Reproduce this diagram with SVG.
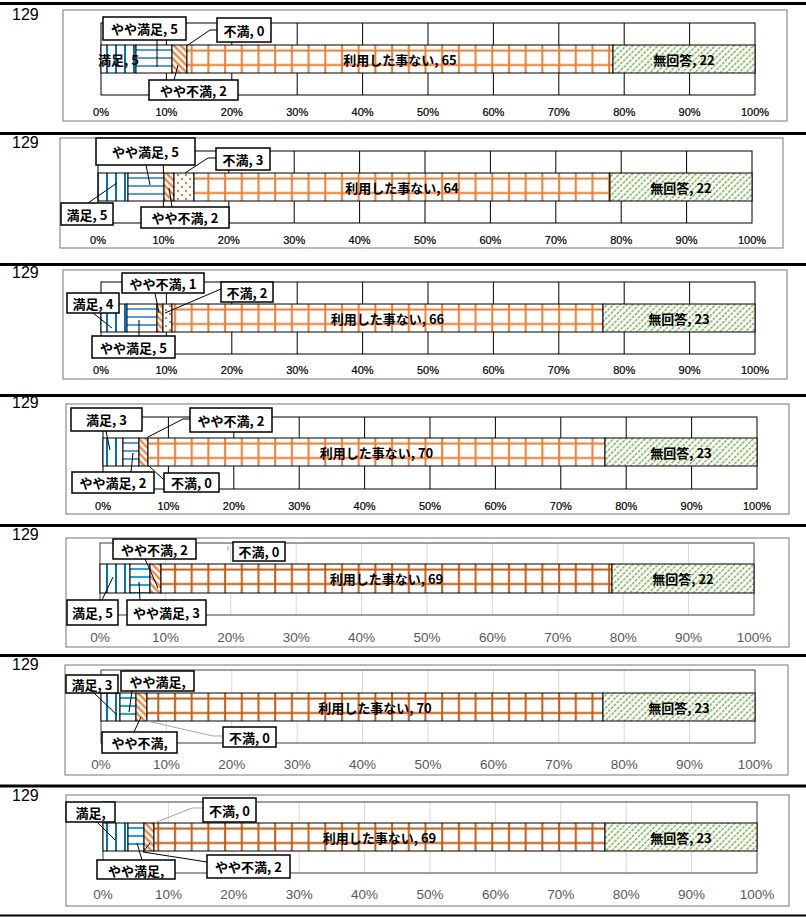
<svg xmlns="http://www.w3.org/2000/svg" width="806" height="917" viewBox="0 0 806 917">
<style>
.sep{stroke:#000;stroke-width:3}
.frame{fill:#fff;stroke:#767676;stroke-width:1}
.plot{fill:none;stroke:#000;stroke-width:1}
.plot2{fill:none;stroke:#404040;stroke-width:1}
.grid{fill:none;stroke:#000;stroke-width:1}
.grid2{fill:none;stroke:#d9d9d9;stroke-width:1}
.seg{stroke:#000;stroke-width:1}
.lbl{font-family:"Noto Sans CJK JP","Noto Sans CJK SC",sans-serif;font-weight:bold;font-size:13px;text-anchor:middle;dominant-baseline:central;fill:#000}
.box{fill:#fff;stroke:#000;stroke-width:1.5}
.lead{fill:none;stroke:#000;stroke-width:1}
.leadg{fill:none;stroke:#a6a6a6;stroke-width:1}
.ax{font-family:"Liberation Sans",Arial,sans-serif;font-size:11px;text-anchor:middle;fill:#000;stroke:#000;stroke-width:0.2}
.ax2{font-family:"Liberation Sans",Arial,sans-serif;font-size:13.5px;text-anchor:middle;fill:#595959}
.num{font-family:"Liberation Sans",Arial,sans-serif;font-size:16px;fill:#000}
</style>
<defs>
<pattern id="pM" patternUnits="userSpaceOnUse" width="9" height="10">
<rect width="9" height="10" fill="#fff"/><line x1="8" y1="0" x2="8" y2="10" stroke="#0070C0" stroke-width="2"/>
</pattern>
<pattern id="pYM" patternUnits="userSpaceOnUse" width="10" height="8">
<rect width="10" height="8" fill="#fff"/><line x1="0" y1="5" x2="10" y2="5" stroke="#5B9BD5" stroke-width="2"/>
</pattern>
<pattern id="pYM2" patternUnits="userSpaceOnUse" width="10" height="8">
<rect width="10" height="8" fill="#fff"/><line x1="0" y1="5" x2="10" y2="5" stroke="#1FA3E6" stroke-width="2"/>
</pattern>
<pattern id="pYF" patternUnits="userSpaceOnUse" width="5" height="5" patternTransform="rotate(-45)">
<rect width="5" height="5" fill="#fff"/><line x1="2.5" y1="0" x2="2.5" y2="5" stroke="#ED7D31" stroke-width="2.2"/>
</pattern>
<pattern id="pF" patternUnits="userSpaceOnUse" width="8" height="8">
<rect width="8" height="8" fill="#fff"/><rect x="1" y="1" width="2" height="2" fill="#ED7D31"/><rect x="5" y="5" width="2" height="2" fill="#ED7D31"/>
</pattern>
<pattern id="pR" patternUnits="userSpaceOnUse" width="16.7" height="14.5">
<rect width="16.7" height="14.5" fill="#fff"/><line x1="8" y1="0" x2="8" y2="14.5" stroke="#ED7D31" stroke-width="2"/><line x1="0" y1="5.5" x2="16.7" y2="5.5" stroke="#ED7D31" stroke-width="2"/>
</pattern>
<pattern id="pR2" patternUnits="userSpaceOnUse" width="16.7" height="14.5">
<rect width="16.7" height="14.5" fill="#fff"/><line x1="8" y1="0" x2="8" y2="14.5" stroke="#C55A11" stroke-width="2"/><line x1="0" y1="5.5" x2="16.7" y2="5.5" stroke="#C55A11" stroke-width="2"/>
</pattern>
<pattern id="pN" patternUnits="userSpaceOnUse" width="4.5" height="8" patternTransform="rotate(45)">
<rect width="4.5" height="8" fill="#fff"/><line x1="2.25" y1="0" x2="2.25" y2="8" stroke="#70AD47" stroke-width="1.4" stroke-dasharray="3 1"/>
</pattern>
</defs>
<rect width="806" height="917" fill="#fff"/>
<g id="separators">
<line class="sep" x1="0" y1="3.5" x2="806" y2="3.5"/>
<line class="sep" x1="0" y1="133.5" x2="806" y2="133.5"/>
<line class="sep" x1="0" y1="264.5" x2="806" y2="264.5"/>
<line class="sep" x1="0" y1="395.5" x2="806" y2="395.5"/>
<line class="sep" x1="0" y1="525.5" x2="806" y2="525.5"/>
<line class="sep" x1="0" y1="655.5" x2="806" y2="655.5"/>
<line class="sep" x1="0" y1="786" x2="806" y2="786"/>
<line x1="0" y1="915.5" x2="806" y2="915.5" stroke="#000" stroke-width="2"/>
</g>

<!-- Panel 1 -->
<g id="panel1" transform="translate(0,45)">
<text class="num" x="12" y="-25">129</text>
<rect class="frame" x="63" y="-35" width="724" height="111"/>
<path class="grid" d="M166.4,-22v72m65.4,-72v72m65.4,-72v72m65.4,-72v72m65.4,-72v72m65.4,-72v72m65.4,-72v72m65.4,-72v72m65.4,-72v72"/>
<rect class="plot" x="101" y="-22" width="654" height="72"/>
<g id="p1-bars">
<rect class="seg" fill="url(#pM)" x="101" y="0" width="35" height="28"/>
<rect class="seg" fill="url(#pYM)" x="136" y="0" width="36" height="28"/>
<rect class="seg" fill="url(#pYF)" x="172" y="0" width="15" height="28"/>
<rect class="seg" fill="url(#pR)" x="187" y="0" width="426" height="28"/>
<rect class="seg" fill="url(#pN)" x="613" y="0" width="142" height="28"/>
</g>
<g id="p1-axis">
<text class="ax" x="101" y="71">0%</text><text class="ax" x="166.4" y="71">10%</text><text class="ax" x="231.8" y="71">20%</text><text class="ax" x="297.2" y="71">30%</text><text class="ax" x="362.6" y="71">40%</text><text class="ax" x="428" y="71">50%</text><text class="ax" x="493.4" y="71">60%</text><text class="ax" x="558.8" y="71">70%</text><text class="ax" x="624.2" y="71">80%</text><text class="ax" x="689.6" y="71">90%</text><text class="ax" x="755" y="71">100%</text>
</g>
<g id="p1-connectors">
<path class="lead" d="M157,-5V22"/>
<path class="lead" d="M217,-15H210L188,0"/>
<path class="lead" d="M174,35L178,20"/>
</g>
<g id="p1-manzoku"><text class="lbl" x="118.5" y="14">満足, 5</text></g>
<g id="p1-yayamanzoku"><rect class="box" x="103" y="-28" width="83" height="23"/><text class="lbl" x="144.5" y="-16.5">やや満足, 5</text></g>
<g id="p1-fuman"><rect class="box" x="217" y="-27" width="54" height="24"/><text class="lbl" x="244" y="-15">不満, 0</text></g>
<g id="p1-yayafuman"><rect class="box" x="149" y="35" width="89" height="20"/><text class="lbl" x="193.5" y="45">やや不満, 2</text></g>
<g id="p1-riyou"><text class="lbl" x="400" y="14">利用した事ない, 65</text></g>
<g id="p1-mukaitou"><text class="lbl" x="684" y="14">無回答, 22</text></g>
</g>

<!-- Panel 2 -->
<g id="panel2" transform="translate(0,173)">
<text class="num" x="12" y="-25">129</text>
<rect class="frame" x="60" y="-35" width="723" height="110"/>
<path class="grid" d="M163.4,-22v72m65.4,-72v72m65.4,-72v72m65.4,-72v72m65.4,-72v72m65.4,-72v72m65.4,-72v72m65.4,-72v72m65.4,-72v72"/>
<rect class="plot" x="98" y="-22" width="654" height="72"/>
<g id="p2-bars">
<rect class="seg" fill="url(#pM)" x="98" y="0" width="30" height="28"/>
<rect class="seg" fill="url(#pYM)" x="128" y="0" width="36" height="28"/>
<rect class="seg" fill="url(#pYF)" x="164" y="0" width="10" height="28"/>
<rect class="seg" fill="url(#pF)" x="174" y="0" width="20" height="28"/>
<rect class="seg" fill="url(#pR)" x="194" y="0" width="416" height="28"/>
<rect class="seg" fill="url(#pN)" x="610" y="0" width="142" height="28"/>
</g>
<g id="p2-axis">
<text class="ax" x="98" y="71">0%</text><text class="ax" x="163.4" y="71">10%</text><text class="ax" x="228.8" y="71">20%</text><text class="ax" x="294.2" y="71">30%</text><text class="ax" x="359.6" y="71">40%</text><text class="ax" x="425" y="71">50%</text><text class="ax" x="490.4" y="71">60%</text><text class="ax" x="555.8" y="71">70%</text><text class="ax" x="621.2" y="71">80%</text><text class="ax" x="686.6" y="71">90%</text><text class="ax" x="752" y="71">100%</text>
</g>
<g id="p2-connectors">
<path class="lead" d="M146,-8L150,12"/>
<path class="lead" d="M216,-15H208L185,0"/>
<path class="lead" d="M88,30L117,10"/>
<path class="lead" d="M172,34L169,15"/>
</g>
<g id="p2-yayamanzoku"><rect class="box" x="96" y="-35" width="99" height="27"/><text class="lbl" x="145.5" y="-21.5">やや満足, 5</text></g>
<g id="p2-fuman"><rect class="box" x="216" y="-25" width="54" height="22"/><text class="lbl" x="243" y="-14">不満, 3</text></g>
<g id="p2-manzoku"><rect class="box" x="61" y="30" width="52" height="22"/><text class="lbl" x="87" y="41">満足, 5</text></g>
<g id="p2-yayafuman"><rect class="box" x="141" y="34" width="88" height="21"/><text class="lbl" x="185" y="44.5">やや不満, 2</text></g>
<g id="p2-riyou"><text class="lbl" x="402" y="14">利用した事ない, 64</text></g>
<g id="p2-mukaitou"><text class="lbl" x="681" y="14">無回答, 22</text></g>
</g>

<!-- Panel 3 -->
<g id="panel3" transform="translate(0,304)">
<text class="num" x="12" y="-26">129</text>
<rect class="frame" x="63" y="-34" width="724" height="109"/>
<path class="grid" d="M166.4,-22v72m65.4,-72v72m65.4,-72v72m65.4,-72v72m65.4,-72v72m65.4,-72v72m65.4,-72v72m65.4,-72v72m65.4,-72v72"/>
<rect class="plot" x="101" y="-22" width="654" height="72"/>
<g id="p3-bars">
<rect class="seg" fill="url(#pM)" x="101" y="0" width="26" height="28"/>
<rect class="seg" fill="url(#pYM)" x="127" y="0" width="30" height="28"/>
<rect class="seg" fill="url(#pYF)" x="157" y="0" width="6" height="28"/>
<rect class="seg" fill="url(#pF)" x="163" y="0" width="9" height="28"/>
<rect class="seg" fill="url(#pR)" x="172" y="0" width="431" height="28"/>
<rect class="seg" fill="url(#pN)" x="603" y="0" width="152" height="28"/>
</g>
<g id="p3-axis">
<text class="ax" x="101" y="70">0%</text><text class="ax" x="166.4" y="70">10%</text><text class="ax" x="231.8" y="70">20%</text><text class="ax" x="297.2" y="70">30%</text><text class="ax" x="362.6" y="70">40%</text><text class="ax" x="428" y="70">50%</text><text class="ax" x="493.4" y="70">60%</text><text class="ax" x="558.8" y="70">70%</text><text class="ax" x="624.2" y="70">80%</text><text class="ax" x="689.6" y="70">90%</text><text class="ax" x="755" y="70">100%</text>
</g>
<g id="p3-connectors">
<path class="lead" d="M93,9L112,24"/>
<path class="lead" d="M155,-11L159,9"/>
<path class="lead" d="M221,-15L165,9"/>
<path class="lead" d="M139,32V16"/>
</g>
<g id="p3-manzoku"><rect class="box" x="67" y="-11" width="52" height="20"/><text class="lbl" x="93" y="-1">満足, 4</text></g>
<g id="p3-yayafuman"><rect class="box" x="122" y="-31" width="82" height="20"/><text class="lbl" x="163" y="-21">やや不満, 1</text></g>
<g id="p3-fuman"><rect class="box" x="221" y="-22" width="52" height="20"/><text class="lbl" x="247" y="-12">不満, 2</text></g>
<g id="p3-yayamanzoku"><rect class="box" x="92" y="32" width="83" height="22"/><text class="lbl" x="133.5" y="43">やや満足, 5</text></g>
<g id="p3-riyou"><text class="lbl" x="387.5" y="14">利用した事ない, 66</text></g>
<g id="p3-mukaitou"><text class="lbl" x="679" y="14">無回答, 23</text></g>
</g>

<!-- Panel 4 -->
<g id="panel4" transform="translate(0,438)">
<text class="num" x="12" y="-30">129</text>
<rect class="frame" x="66" y="-34" width="723" height="110"/>
<path class="grid" d="M168.4,-21v72m65.4,-72v72m65.4,-72v72m65.4,-72v72m65.4,-72v72m65.4,-72v72m65.4,-72v72m65.4,-72v72m65.4,-72v72"/>
<rect class="plot" x="103" y="-21" width="654" height="72"/>
<g id="p4-bars">
<rect class="seg" fill="url(#pM)" x="103" y="0" width="20" height="28"/>
<rect class="seg" fill="url(#pYM)" x="123" y="0" width="16" height="28"/>
<rect class="seg" fill="url(#pYF)" x="139" y="0" width="9" height="28"/>
<rect class="seg" fill="url(#pR)" x="148" y="0" width="457" height="28"/>
<rect class="seg" fill="url(#pN)" x="605" y="0" width="152" height="28"/>
</g>
<g id="p4-axis">
<text class="ax" x="103" y="72">0%</text><text class="ax" x="168.4" y="72">10%</text><text class="ax" x="233.8" y="72">20%</text><text class="ax" x="299.2" y="72">30%</text><text class="ax" x="364.6" y="72">40%</text><text class="ax" x="430" y="72">50%</text><text class="ax" x="495.4" y="72">60%</text><text class="ax" x="560.8" y="72">70%</text><text class="ax" x="626.2" y="72">80%</text><text class="ax" x="691.6" y="72">90%</text><text class="ax" x="757" y="72">100%</text>
</g>
<g id="p4-connectors">
<path class="lead" d="M106,-7L110,12"/>
<path class="lead" d="M190,-19H183L148,-1"/>
<path class="lead" d="M131,34L133,15"/>
<path class="lead" d="M164,42L149,28"/>
</g>
<g id="p4-manzoku"><rect class="box" x="71" y="-30" width="71" height="23"/><text class="lbl" x="106.5" y="-18.5">満足, 3</text></g>
<g id="p4-yayafuman"><rect class="box" x="190" y="-30" width="82" height="24"/><text class="lbl" x="231" y="-18">やや不満, 2</text></g>
<g id="p4-yayamanzoku"><rect class="box" x="72" y="34" width="82" height="21"/><text class="lbl" x="113" y="44.5">やや満足, 2</text></g>
<g id="p4-fuman"><rect class="box" x="164" y="35" width="55" height="19"/><text class="lbl" x="191.5" y="44.5">不満, 0</text></g>
<g id="p4-riyou"><text class="lbl" x="376.5" y="14">利用した事ない, 70</text></g>
<g id="p4-mukaitou"><text class="lbl" x="681" y="14">無回答, 23</text></g>
</g>

<!-- Panel 5 -->
<g id="panel5" transform="translate(0,564)">
<text class="num" x="12" y="-24">129</text>
<rect class="frame" x="66" y="-26" width="723" height="109"/>
<path class="grid2" d="M165.4,-21v72m65.4,-72v72m65.4,-72v72m65.4,-72v72m65.4,-72v72m65.4,-72v72m65.4,-72v72m65.4,-72v72m65.4,-72v72"/>
<rect class="plot2" x="100" y="-21" width="654" height="72"/>
<g id="p5-bars">
<rect class="seg" fill="url(#pM)" x="100" y="0" width="30" height="29"/>
<rect class="seg" fill="url(#pYM2)" x="130" y="0" width="20" height="29"/>
<rect class="seg" fill="url(#pYF)" x="150" y="0" width="11" height="29"/>
<rect class="seg" fill="url(#pR2)" x="161" y="0" width="451" height="29"/>
<rect class="seg" fill="url(#pN)" x="612" y="0" width="142" height="29"/>
</g>
<g id="p5-axis">
<text class="ax2" x="100" y="78">0%</text><text class="ax2" x="165.4" y="78">10%</text><text class="ax2" x="230.8" y="78">20%</text><text class="ax2" x="296.2" y="78">30%</text><text class="ax2" x="361.6" y="78">40%</text><text class="ax2" x="427" y="78">50%</text><text class="ax2" x="492.4" y="78">60%</text><text class="ax2" x="557.8" y="78">70%</text><text class="ax2" x="623.2" y="78">80%</text><text class="ax2" x="688.6" y="78">90%</text><text class="ax2" x="754" y="78">100%</text>
</g>
<g id="p5-connectors">
<path class="lead" d="M145,-5L158,24"/>
<path class="leadg" d="M228,-18V-13"/>
<path class="lead" d="M102,36L113,13"/>
<path class="lead" d="M140,36L139,18"/>
</g>
<g id="p5-yayafuman"><rect class="box" x="113" y="-25" width="83" height="20"/><text class="lbl" x="154.5" y="-15">やや不満, 2</text></g>
<g id="p5-fuman"><rect class="box" x="233" y="-22" width="52" height="19"/><text class="lbl" x="259" y="-12.5">不満, 0</text></g>
<g id="p5-manzoku"><rect class="box" x="67" y="36" width="51" height="25"/><text class="lbl" x="92.5" y="48.5">満足, 5</text></g>
<g id="p5-yayamanzoku"><rect class="box" x="127" y="36" width="79" height="25"/><text class="lbl" x="166.5" y="48.5">やや満足, 3</text></g>
<g id="p5-riyou"><text class="lbl" x="386.5" y="14.5">利用した事ない, 69</text></g>
<g id="p5-mukaitou"><text class="lbl" x="683" y="14.5">無回答, 22</text></g>
</g>

<!-- Panel 6 -->
<g id="panel6" transform="translate(0,693)">
<text class="num" x="12" y="-23">129</text>
<rect class="frame" x="65" y="-28" width="723" height="110"/>
<path class="grid2" d="M166.4,-23v73m65.4,-73v73m65.4,-73v73m65.4,-73v73m65.4,-73v73m65.4,-73v73m65.4,-73v73m65.4,-73v73m65.4,-73v73"/>
<rect class="plot2" x="101" y="-23" width="654" height="73"/>
<g id="p6-bars">
<rect class="seg" fill="url(#pM)" x="101" y="0" width="19" height="28"/>
<rect class="seg" fill="url(#pYM2)" x="120" y="0" width="16" height="28"/>
<rect class="seg" fill="url(#pYF)" x="136" y="0" width="11" height="28"/>
<rect class="seg" fill="url(#pR2)" x="147" y="0" width="456" height="28"/>
<rect class="seg" fill="url(#pN)" x="603" y="0" width="152" height="28"/>
</g>
<g id="p6-axis">
<text class="ax2" x="101" y="76">0%</text><text class="ax2" x="166.4" y="76">10%</text><text class="ax2" x="231.8" y="76">20%</text><text class="ax2" x="297.2" y="76">30%</text><text class="ax2" x="362.6" y="76">40%</text><text class="ax2" x="428" y="76">50%</text><text class="ax2" x="493.4" y="76">60%</text><text class="ax2" x="558.8" y="76">70%</text><text class="ax2" x="624.2" y="76">80%</text><text class="ax2" x="689.6" y="76">90%</text><text class="ax2" x="755" y="76">100%</text>
</g>
<g id="p6-connectors">
<path class="lead" d="M94,0L117,22"/>
<path class="lead" d="M132,-2L129,19"/>
<path class="lead" d="M134,39L141,24"/>
<path class="leadg" d="M223,43H213L147,28"/>
</g>
<g id="p6-manzoku"><rect class="box" x="66" y="-18" width="52" height="18"/><text class="lbl" x="92" y="-9">満足, 3</text></g>
<g id="p6-yayamanzoku"><rect class="box" x="121" y="-22" width="73" height="20"/><text class="lbl" x="157.5" y="-12">やや満足,</text></g>
<g id="p6-yayafuman"><rect class="box" x="102" y="39" width="75" height="21"/><text class="lbl" x="139.5" y="49.5">やや不満,</text></g>
<g id="p6-fuman"><rect class="box" x="223" y="34" width="53" height="20"/><text class="lbl" x="249.5" y="44">不満, 0</text></g>
<g id="p6-riyou"><text class="lbl" x="375" y="14">利用した事ない, 70</text></g>
<g id="p6-mukaitou"><text class="lbl" x="679" y="14">無回答, 23</text></g>
</g>

<!-- Panel 7 -->
<g id="panel7" transform="translate(0,823)">
<text class="num" x="12" y="-22">129</text>
<rect class="frame" x="66" y="-28" width="723" height="111"/>
<path class="grid2" d="M168.4,-21v71m65.4,-71v71m65.4,-71v71m65.4,-71v71m65.4,-71v71m65.4,-71v71m65.4,-71v71m65.4,-71v71m65.4,-71v71"/>
<rect class="plot2" x="103" y="-21" width="654" height="71"/>
<g id="p7-bars">
<rect class="seg" fill="url(#pM)" x="103" y="0" width="25" height="28"/>
<rect class="seg" fill="url(#pYM2)" x="128" y="0" width="16" height="28"/>
<rect class="seg" fill="url(#pYF)" x="144" y="0" width="10" height="28"/>
<rect class="seg" fill="url(#pR2)" x="154" y="0" width="451" height="28"/>
<rect class="seg" fill="url(#pN)" x="605" y="0" width="152" height="28"/>
</g>
<g id="p7-axis">
<text class="ax2" x="103" y="76">0%</text><text class="ax2" x="168.4" y="76">10%</text><text class="ax2" x="233.8" y="76">20%</text><text class="ax2" x="299.2" y="76">30%</text><text class="ax2" x="364.6" y="76">40%</text><text class="ax2" x="430" y="76">50%</text><text class="ax2" x="495.4" y="76">60%</text><text class="ax2" x="560.8" y="76">70%</text><text class="ax2" x="626.2" y="76">80%</text><text class="ax2" x="691.6" y="76">90%</text><text class="ax2" x="757" y="76">100%</text>
</g>
<g id="p7-connectors">
<path class="lead" d="M97,-1L115,17"/>
<path class="leadg" d="M203,-15H192L154,0"/>
<path class="lead" d="M142,37L137,20"/>
<path class="lead" d="M150,20L143,29L207,39"/>
</g>
<g id="p7-manzoku"><rect class="box" x="66" y="-21" width="49" height="20"/><text class="lbl" x="90.5" y="-11">満足,</text></g>
<g id="p7-fuman"><rect class="box" x="203" y="-25" width="53" height="24"/><text class="lbl" x="229.5" y="-13">不満, 0</text></g>
<g id="p7-yayamanzoku"><rect class="box" x="97" y="37" width="78" height="19"/><text class="lbl" x="136" y="47">やや満足,</text></g>
<g id="p7-yayafuman"><rect class="box" x="207" y="32" width="83" height="23"/><text class="lbl" x="248.5" y="43.5">やや不満, 2</text></g>
<g id="p7-riyou"><text class="lbl" x="379.5" y="14">利用した事ない, 69</text></g>
<g id="p7-mukaitou"><text class="lbl" x="681" y="14">無回答, 23</text></g>
</g>
</svg>
